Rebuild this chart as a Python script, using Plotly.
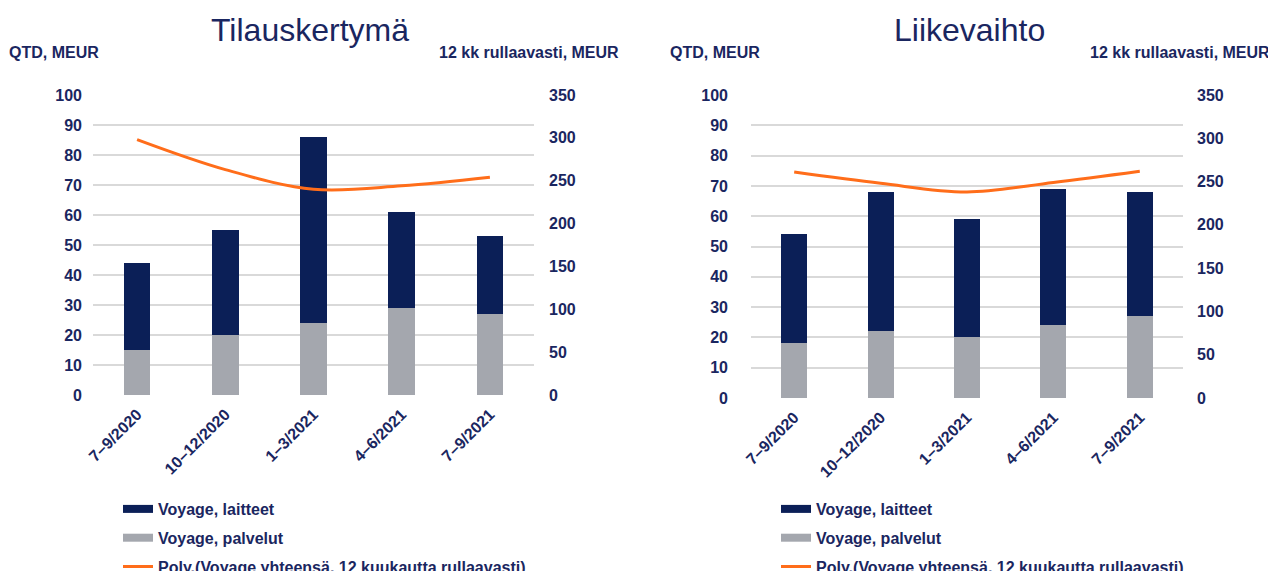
import plotly.graph_objects as go

# The page is drawn with an 8px body margin, so the figure is a little smaller
# and every position below is given in reference-picture pixels minus that offset.
OFF = 8
W, H = 1276 - OFF, 571 - OFF

categories = ["7–9/2020", "10–12/2020", "1–3/2021", "4–6/2021", "7–9/2021"]

# Tilauskertymä (order intake), QTD MEUR
til_laitteet = [29, 35, 62, 32, 26]
til_palvelut = [15, 20, 24, 29, 27]
til_rolling = [298, 263, 240, 244, 254]

# Liikevaihto (net sales), QTD MEUR
lv_laitteet = [36, 46, 39, 45, 41]
lv_palvelut = [18, 22, 20, 24, 27]
lv_rolling = [261, 248, 238, 249, 262]

series_names = ["Voyage, laitteet", "Voyage, palvelut",
                "Poly.(Voyage yhteensä, 12 kuukautta rullaavasti)"]

NAVY = "#0b1f57"
GRAY = "#a4a7ae"
ORANGE = "#ff6d1a"
TEXT = "#1a2660"
GRID = "#d9d9d9"
FONT = "Liberation Sans, Arial, sans-serif"


def px(x):
    return (x - OFF) / W


def py(y):
    return 1 - (y - OFF) / H


fig = go.Figure()


def add_chart(xa, ya, ya2, leg, laitteet, palvelut, rolling):
    fig.add_trace(go.Bar(x=categories, y=palvelut, marker_color=GRAY, marker_line_width=0,
                         xaxis=xa, yaxis=ya, showlegend=False, name=series_names[1]))
    fig.add_trace(go.Bar(x=categories, y=laitteet, marker_color=NAVY, marker_line_width=0,
                         xaxis=xa, yaxis=ya, showlegend=False, name=series_names[0]))
    fig.add_trace(go.Scatter(x=categories, y=rolling, mode="lines",
                             line=dict(color=ORANGE, width=3, shape="spline", smoothing=1.0),
                             xaxis=xa, yaxis=ya2, name=series_names[2], legend=leg,
                             legendgroup=leg + "c", legendrank=3))
    # legend entries drawn as thick lines
    fig.add_trace(go.Scatter(x=[None], y=[None], mode="lines", line=dict(color=NAVY, width=8),
                             xaxis=xa, yaxis=ya, name=series_names[0], legend=leg,
                             legendgroup=leg + "a", legendrank=1, hoverinfo="skip"))
    fig.add_trace(go.Scatter(x=[None], y=[None], mode="lines", line=dict(color=GRAY, width=8),
                             xaxis=xa, yaxis=ya, name=series_names[1], legend=leg,
                             legendgroup=leg + "b", legendrank=2, hoverinfo="skip"))


add_chart("x", "y", "y2", "legend", til_laitteet, til_palvelut, til_rolling)
add_chart("x2", "y3", "y4", "legend2", lv_laitteet, lv_palvelut, lv_rolling)

tickfont = dict(family=FONT, size=16, color=TEXT, weight="bold")

xcommon = dict(type="category", tickangle=-45, tickfont=tickfont, showgrid=False,
               zeroline=False, showline=False, ticks="", ticklabelstandoff=6,
               automargin=False)
yleft = dict(range=[0, 100], dtick=10, tickfont=tickfont, showgrid=True, gridcolor=GRID,
             gridwidth=2, zeroline=False, showline=False, ticks="", automargin=False)
yright = dict(range=[0, 350], dtick=50, tickfont=tickfont, showgrid=False, zeroline=False,
              showline=False, ticks="", side="right", automargin=False)

legcommon = dict(font=dict(family=FONT, size=16, color=TEXT, weight="bold"),
                 bgcolor="rgba(0,0,0,0)", tracegroupgap=5, itemwidth=30,
                 xanchor="left", yanchor="top", traceorder="grouped")

fig.update_layout(
    width=W, height=H, autosize=False,
    margin=dict(l=0, r=0, t=0, b=0, autoexpand=False),
    paper_bgcolor="white", plot_bgcolor="white",
    barmode="stack", bargap=0.7,
    font=dict(family=FONT, color=TEXT),
    xaxis=dict(domain=[px(93), px(534)], anchor="y", **xcommon),
    yaxis=dict(domain=[py(395), py(95)], anchor="x", ticklabelstandoff=10, **yleft),
    yaxis2=dict(overlaying="y", anchor="x", ticklabelstandoff=14, **yright),
    xaxis2=dict(domain=[px(751), px(1183)], anchor="y3", **xcommon),
    yaxis3=dict(domain=[py(398), py(95)], anchor="x2", ticklabelstandoff=22, **yleft),
    yaxis4=dict(overlaying="y3", anchor="x2", ticklabelstandoff=13, **yright),
    legend=dict(x=px(118), y=py(492), **legcommon),
    legend2=dict(x=px(776), y=py(492), **legcommon),
    hovermode=False,
)

annots = [
    dict(text="Tilauskertymä", x=px(310), y=py(30), font=dict(size=32)),
    dict(text="Liikevaihto", x=px(970), y=py(30), font=dict(size=32)),
    dict(text="<b>QTD, MEUR</b>", x=px(54), y=py(53), font=dict(size=16)),
    dict(text="<b>12 kk rullaavasti, MEUR</b>", x=px(529), y=py(53), font=dict(size=16)),
    dict(text="<b>QTD, MEUR</b>", x=px(715), y=py(53), font=dict(size=16)),
    dict(text="<b>12 kk rullaavasti, MEUR</b>", x=px(1180), y=py(53), font=dict(size=16)),
]
for a in annots:
    fig.add_annotation(xref="paper", yref="paper", x=a["x"], y=a["y"], text=a["text"],
                       showarrow=False, xanchor="center", yanchor="middle",
                       font=dict(family=FONT, color=TEXT, size=a["font"]["size"]))

fig.write_html("out.html")
